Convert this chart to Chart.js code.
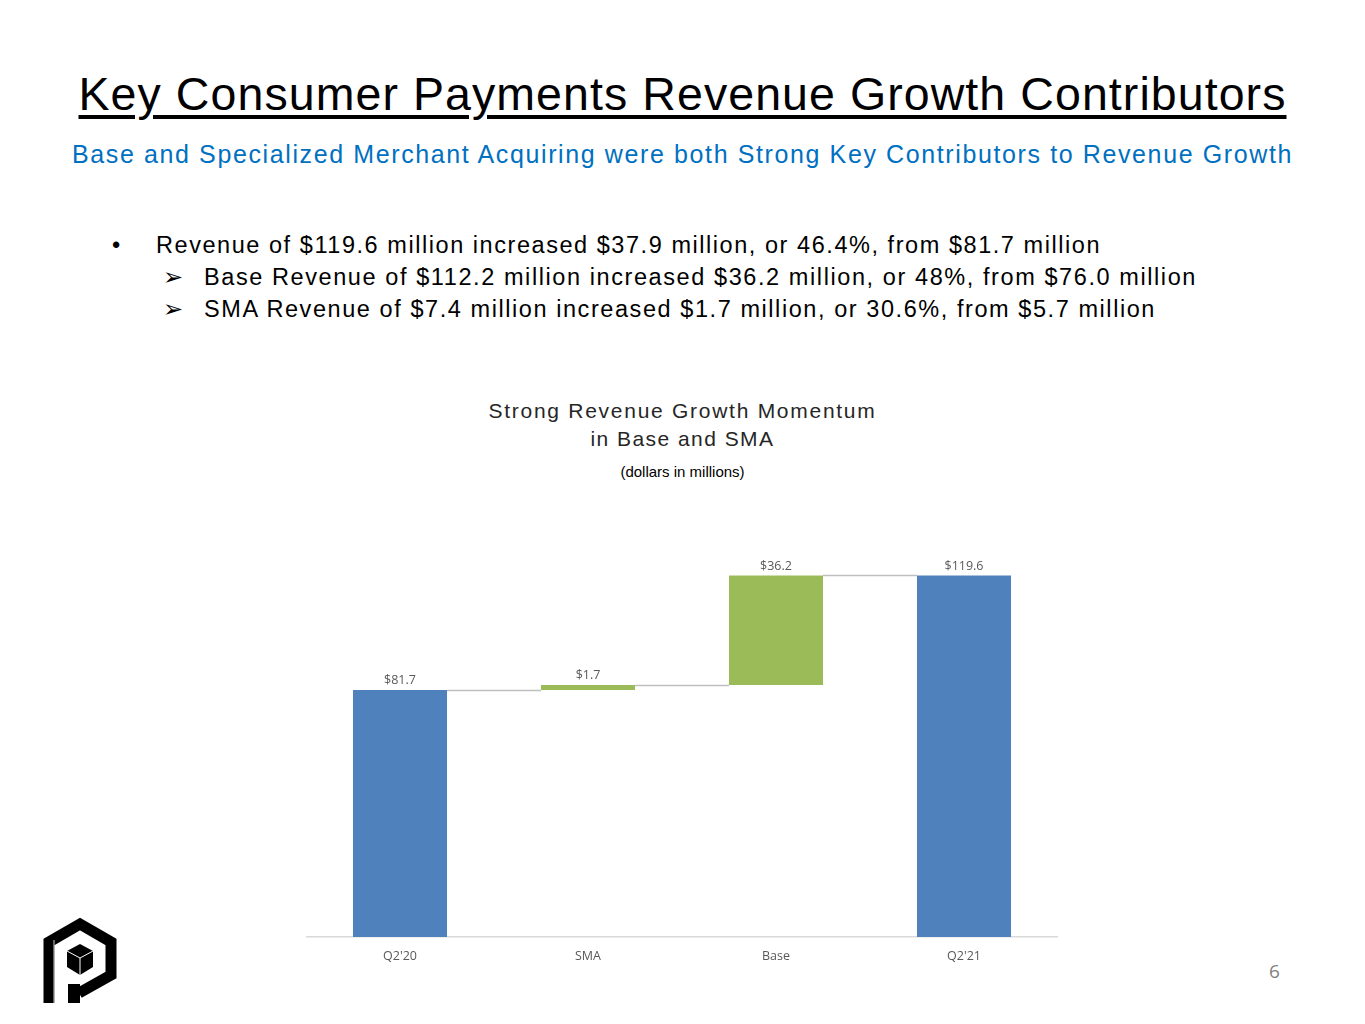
<!DOCTYPE html>
<html>
<head>
<meta charset="utf-8">
<script src="https://cdn.jsdelivr.net/npm/chart.js@4"></script>
<style>
  body { margin: 0; background: #fff; font-family: 'Liberation Sans', Arial, sans-serif; }
  #page { position: relative; width: 1365px; height: 1024px; overflow: hidden; }
  .abs { position: absolute; white-space: nowrap; }
  #title { left: 0; width: 1365px; text-align: center; top: 66px; font-size: 46.5px; line-height: 56px; color: #000;
           text-decoration: underline; text-decoration-thickness: 3.5px; text-underline-offset: 5px; }
  #subtitle { left: 0; width: 1365px; text-align: center; top: 139px; font-size: 25px; line-height: 30px; color: #0070c0; }
  .bl { font-size: 23.5px; line-height: 32px; color: #000; }
  #chartTitle { left: 0; width: 1365px; text-align: center; top: 397px; font-size: 21px; line-height: 28px; color: #262626; }
  #unit { left: 0; width: 1365px; text-align: center; top: 462px; font-size: 15px; line-height: 20px; color: #000; }
  #pageNum { left: 1269px; top: 958px; font-size: 19px; color: #7f7f7f; font-family: 'Liberation Sans Narrow', 'Open Sans', sans-serif; }
  #wrap { position: absolute; left: 306px; top: 534px; width: 752px; height: 442px; }
</style>
</head>
<body>
<div id="page">
  <div id="title" class="abs"><span class="fit" data-w="1208">Key Consumer Payments Revenue Growth Contributors</span></div>
  <div id="subtitle" class="abs"><span class="fit" data-w="1221">Base and Specialized Merchant Acquiring were both Strong Key Contributors to Revenue Growth</span></div>

  <div class="abs bl" style="left:112px; top:229px;">•</div>
  <div class="abs bl" style="left:156px; top:229px;"><span class="fit" data-w="945">Revenue of $119.6 million increased $37.9 million, or 46.4%, from $81.7 million</span></div>
  <div class="abs bl" style="left:163px; top:261px;">➢</div>
  <div class="abs bl" style="left:204px; top:261px;"><span class="fit" data-w="993">Base Revenue of $112.2 million increased $36.2 million, or 48%, from $76.0 million</span></div>
  <div class="abs bl" style="left:163px; top:293px;">➢</div>
  <div class="abs bl" style="left:204px; top:293px;"><span class="fit" data-w="952">SMA Revenue of $7.4 million increased $1.7 million, or 30.6%, from $5.7 million</span></div>

  <div id="chartTitle" class="abs"><span class="fit" data-w="388">Strong Revenue Growth Momentum</span><br><span class="fit" data-w="184">in Base and SMA</span></div>
  <div id="unit" class="abs">(dollars in millions)</div>

  <div id="wrap"><canvas id="wf"></canvas></div>

  <svg class="abs" style="left:36px; top:910px;" width="90" height="100" viewBox="36 910 90 100">
    <path d="M49 1003 V942 L80 924 L111 942 V975 L79 993" fill="none" stroke="#000" stroke-width="11" stroke-linejoin="miter"/>
    <rect x="68" y="984" width="12" height="19" fill="#000"/>
    <polygon points="80,944 93,951 93,967 80,975 67,967 67,951" fill="#000"/>
    <polyline points="67,951 80,958 93,951" fill="none" stroke="#fff" stroke-width="1"/>
    <line x1="80" y1="958" x2="80" y2="975" stroke="#fff" stroke-width="1"/>
    <line x1="54" y1="940" x2="54" y2="1003" stroke="#fff" stroke-width="0.8"/>
  </svg>

  <div id="pageNum" class="abs">6</div>
</div>

<script>
// waterfall data
const categories = ["Q2'20", 'SMA', 'Base', "Q2'21"];
const amounts = [81.7, 1.7, 36.2, 119.6];
const isTotal = [true, false, false, true];
const yMax = 130;

const blue = '#4f81bd';
const green = '#9bbb59';

// floating ranges for each bar
let running = 0;
const ranges = amounts.map((v, i) => {
    if (isTotal[i]) { running = v; return [0, v]; }
    const r = [running, running + v];
    running += v;
    return r;
});

// stretch letter-spacing so text spans its width in the slide
document.querySelectorAll('.fit').forEach(el => {
    const target = +el.dataset.w;
    const n = el.textContent.length;
    const w = el.getBoundingClientRect().width;
    el.style.letterSpacing = ((target - w) / n) + 'px';
});

const lblFont = "'Liberation Sans Narrow', 'Open Sans', sans-serif";

const waterfallExtras = {
    id: 'waterfallExtras',
    afterDatasetsDraw(chart) {
        const { ctx } = chart;
        const meta = chart.getDatasetMeta(0);
        const y = chart.scales.y;
        ctx.save();
        // connectors
        ctx.strokeStyle = '#bfbfbf';
        ctx.lineWidth = 1.5;
        for (let i = 0; i < meta.data.length - 1; i++) {
            const a = meta.data[i], b = meta.data[i + 1];
            const py = Math.round(y.getPixelForValue(ranges[i][1])) + 0.5;
            ctx.beginPath();
            ctx.moveTo(a.x + a.width / 2, py);
            ctx.lineTo(b.x - b.width / 2, py);
            ctx.stroke();
        }
        // value labels
        ctx.fillStyle = '#595959';
        ctx.font = '12.5px ' + lblFont;
        ctx.textAlign = 'center';
        ctx.textBaseline = 'bottom';
        meta.data.forEach((bar, i) => {
            const top = y.getPixelForValue(Math.max(ranges[i][0], ranges[i][1]));
            ctx.fillText('$' + amounts[i].toFixed(1), bar.x, top - 3);
        });
        ctx.restore();
    }
};

new Chart(document.getElementById('wf'), {
    type: 'bar',
    data: {
        labels: categories,
        datasets: [{
            data: ranges,
            backgroundColor: isTotal.map(t => t ? blue : green),
            borderWidth: 0,
            barPercentage: 0.5,
            categoryPercentage: 1
        }]
    },
    options: {
        responsive: true,
        maintainAspectRatio: false,
        animation: false,
        layout: { padding: { top: 10, left: 0, right: 0, bottom: 0 } },
        plugins: { legend: { display: false }, tooltip: { enabled: false } },
        scales: {
            x: {
                grid: { display: false, drawTicks: false },
                border: { color: '#d9d9d9', width: 1.5 },
                ticks: { color: '#595959', font: { size: 12.5, family: lblFont }, padding: 12 }
            },
            y: { display: false, min: 0, max: yMax }
        }
    },
    plugins: [waterfallExtras]
});
</script>
</body>
</html>
